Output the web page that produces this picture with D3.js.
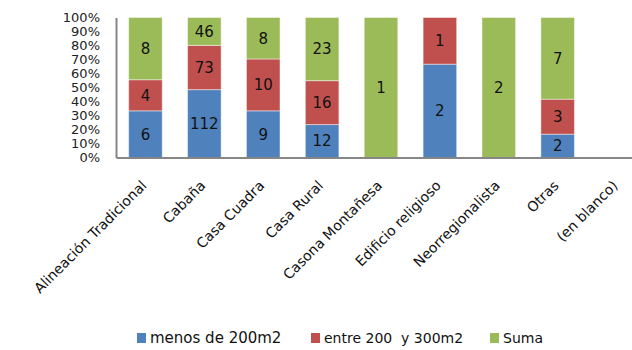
<!DOCTYPE html>
<html><head><meta charset="utf-8">
<script src="https://cdn.jsdelivr.net/npm/d3@7"></script>
<style>body{margin:0;background:#fff}svg{display:block}text{white-space:pre}</style>
</head><body>
<svg id="c" width="632" height="350"></svg>
<script>
const categories = ["Alineación Tradicional","Cabaña","Casa Cuadra","Casa Rural","Casona Montañesa","Edificio religioso","Neorregionalista","Otras","(en blanco)"];
const seriesNames = ["menos de 200m2","entre 200  y 300m2","Suma"];
const menos200 = [6,112,9,12,0,2,0,2,0];
const entre200y300 = [4,73,10,16,0,1,0,3,0];
const suma = [8,46,8,23,1,0,2,7,0];
const yTicks = [0,0.1,0.2,0.3,0.4,0.5,0.6,0.7,0.8,0.9,1];
const colors = ["#4F81BD","#C0504D","#9BBB59"];
const font = "'Century Gothic','URW Gothic','DejaVu Sans',sans-serif";

const svg = d3.select("#c");
const x = d3.scaleBand().domain(categories).range([116, 646]).paddingInner(0.43).paddingOuter(0.215);
const y = d3.scaleLinear().domain([0,1]).range([157.5, 17.5]);

const rows = categories.map((c,i)=>{
  const vals=[menos200[i],entre200y300[i],suma[i]];
  const tot=d3.sum(vals);
  return {cat:c, vals, tot};
});
const stackData = rows.map(r=>{
  const o={cat:r.cat};
  r.vals.forEach((v,k)=>o["s"+k]= r.tot? v/r.tot:0);
  o.raw=r.vals; return o;
});
const stack = d3.stack().keys(["s0","s1","s2"])(stackData);

const g = svg.append("g");
stack.forEach((layer,k)=>{
  layer.forEach(d=>{
    const v = d.data.raw[k];
    if(!v) return;
    g.append("rect")
      .attr("x", x(d.data.cat)).attr("width", x.bandwidth())
      .attr("y", y(d[1])).attr("height", y(d[0])-y(d[1]))
      .attr("fill", colors[k]).attr("stroke","#fff").attr("stroke-opacity",0.45).attr("stroke-width",1);
    g.append("text")
      .attr("x", x(d.data.cat)+x.bandwidth()/2)
      .attr("y", (y(d[0])+y(d[1]))/2)
      .attr("dy","0.36em").attr("text-anchor","middle")
      .attr("font-family",font).attr("font-size",15).attr("fill","#111")
      .text(v);
  });
});

// axes
const ya = svg.append("g").attr("transform","translate(116,0)")
  .call(d3.axisLeft(y).tickValues(yTicks).tickFormat(d3.format(".0%")).tickSize(0).tickPadding(16));
ya.select(".domain").attr("stroke","#868686").attr("stroke-width",2);
ya.selectAll("text").attr("font-family",font).attr("font-size",13).attr("fill","#222");

const xa = svg.append("g").attr("transform","translate(0,157.5)")
  .call(d3.axisBottom(x).tickSize(0).tickPadding(0));
xa.select(".domain").attr("stroke","#868686").attr("stroke-width",2);
xa.selectAll("text").attr("font-family",font).attr("font-size",14).attr("fill","#111")
  .attr("text-anchor","end").attr("dy",0).attr("y",0)
  .attr("transform","translate(2,29) rotate(-45)");

// legend
const legX = [137, 311, 490];
seriesNames.forEach((n,k)=>{
  svg.append("rect").attr("x",legX[k]).attr("y",333).attr("width",9).attr("height",10).attr("fill",colors[k]);
  svg.append("text").attr("x",legX[k]+13).attr("y",343).attr("font-family",font).attr("font-size",k===0?15:14).attr("fill","#111").text(n);
});
</script>
</body></html>
